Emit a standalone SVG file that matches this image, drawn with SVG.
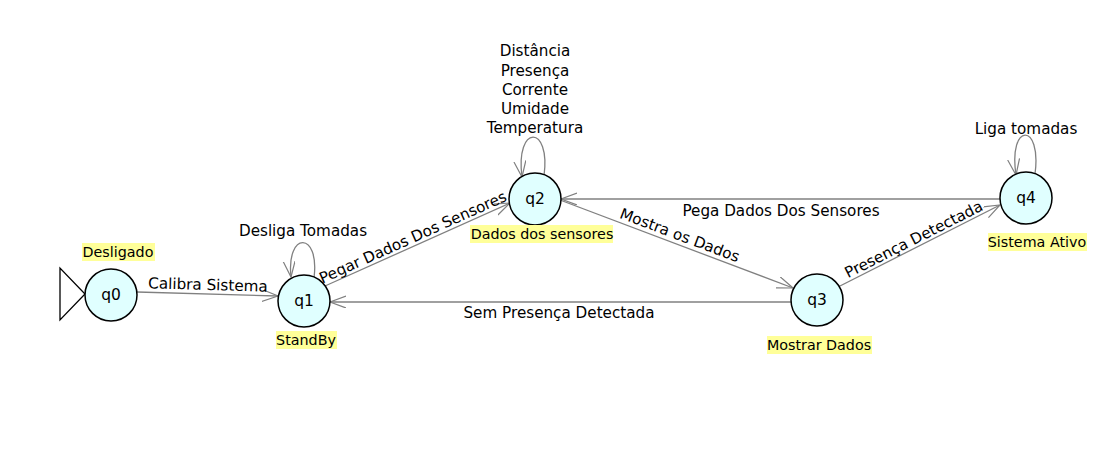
<svg xmlns="http://www.w3.org/2000/svg" width="1117" height="452" viewBox="0 0 1117 452">
<defs>
<marker id="arr" markerWidth="18" markerHeight="14" refX="16" refY="6" orient="auto" markerUnits="userSpaceOnUse">
<path d="M0,0 L16,6 L0,12" fill="none" stroke="#808080" stroke-width="1.2"/>
</marker>
<style>
.st{fill:#e0ffff;stroke:#000;stroke-width:1.5}
.nt{font-family:"DejaVu Sans",sans-serif;font-size:15.5px;fill:#000;text-anchor:middle}
.e{fill:none;stroke:#808080;stroke-width:1.3;marker-end:url(#arr)}
.el{font-family:"DejaVu Sans",sans-serif;font-size:15.2px;fill:#000;text-anchor:middle}
.sl{font-family:"DejaVu Sans",sans-serif;font-size:14.3px;fill:#000;text-anchor:middle}
.hl{fill:#ffff99}
</style>
</defs>
<rect width="1117" height="452" fill="#fff"/>
<g id="connectors">
<path class="e" d="M137,292 L278,296"/>
<path class="e" d="M314,278 C320,231 286,231 291,277"/>
<path class="e" d="M325,286 L510,203"/>
<path class="e" d="M544,176 C551,124 515,124 522,177"/>
<path class="e" d="M560,200 L793,288"/>
<path class="e" d="M791,302 L330,302"/>
<path class="e" d="M838,287 L1000,205"/>
<path class="e" d="M1000,199 L561,199"/>
<path class="e" d="M1035,174 C1042,122 1008,122 1016,175"/>
<text class="el" x="208" y="290" transform="rotate(1.6 208 285)">Calibra Sistema</text>
<text class="el" x="303" y="236">Desliga Tomadas</text>
<text class="el" x="415" y="242" transform="rotate(-24.2 415 242)">Pegar Dados Dos Sensores</text>
<text class="el" x="535" y="56">Distância</text>
<text class="el" x="535" y="76">Presença</text>
<text class="el" x="535" y="95">Corrente</text>
<text class="el" x="535" y="114">Umidade</text>
<text class="el" x="535" y="133">Temperatura</text>
<text class="el" x="678" y="240" transform="rotate(20.7 678 240)">Mostra os Dados</text>
<text class="el" x="559" y="318">Sem Presença Detectada</text>
<text class="el" x="916" y="244" transform="rotate(-26.8 916 244)">Presença Detectada</text>
<text class="el" x="781" y="216">Pega Dados Dos Sensores</text>
<text class="el" x="1026" y="134">Liga tomadas</text>
</g>
<g id="q0">
<path d="M60,268 L60,320 L85,294 Z" fill="#fff" stroke="#000" stroke-width="1.3"/>
<circle class="st" cx="111" cy="295" r="26"/>
<text class="nt" x="111" y="300">q0</text>
<rect class="hl" x="82" y="243" width="73" height="18"/>
<text class="sl" x="118" y="257">Desligado</text>
</g>
<g id="q1">
<circle class="st" cx="304" cy="301" r="26"/>
<text class="nt" x="304" y="306">q1</text>
<rect class="hl" x="276" y="331" width="61" height="18"/>
<text class="sl" x="306" y="345">StandBy</text>
</g>
<g id="q2">
<circle class="st" cx="535" cy="199" r="26"/>
<text class="nt" x="535" y="204">q2</text>
<rect class="hl" x="470" y="225" width="143" height="18"/>
<text class="sl" x="542" y="239">Dados dos sensores</text>
</g>
<g id="q3">
<circle class="st" cx="817" cy="300" r="26"/>
<text class="nt" x="817" y="305">q3</text>
<rect class="hl" x="767" y="336" width="105" height="18"/>
<text class="sl" x="819" y="350">Mostrar Dados</text>
</g>
<g id="q4">
<circle class="st" cx="1026" cy="198" r="26"/>
<text class="nt" x="1026" y="203">q4</text>
<rect class="hl" x="988" y="233" width="99" height="18"/>
<text class="sl" x="1037" y="247">Sistema Ativo</text>
</g>
</svg>
